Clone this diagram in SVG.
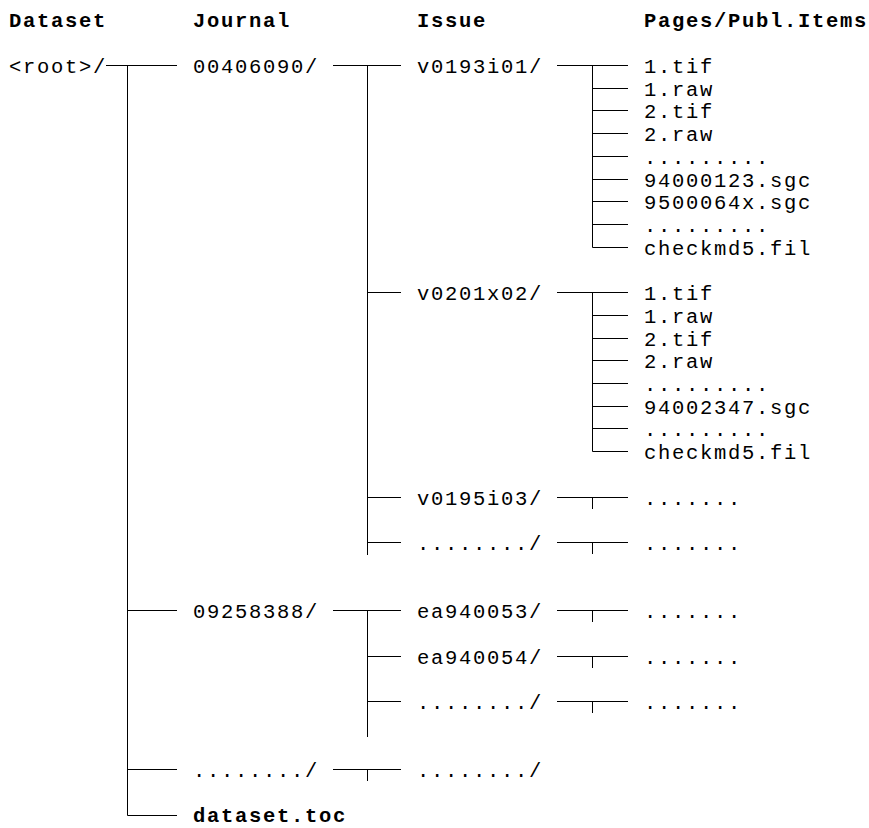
<svg xmlns="http://www.w3.org/2000/svg" width="869" height="828" viewBox="0 0 869 828">
<style>
text{font-family:"Liberation Mono","Courier New",monospace;font-size:20.5px;letter-spacing:1.7px;fill:#000}
.h{font-weight:bold}
.c path{fill:none;stroke:#000;stroke-width:1}
</style>
<rect width="869" height="828" fill="#fff"/>
<g id="headers">
<text class="h" x="9" y="27">Dataset</text>
<text class="h" x="193" y="27">Journal</text>
<text class="h" x="417" y="27">Issue</text>
<text class="h" x="644" y="27">Pages/Publ.Items</text>
</g>
<g id="connectors" class="c">
<path d="M106 65.5H177M127.5 65.5V815.5H177M127.5 610.5H177M127.5 769.5H177"/>
<path d="M333 65.5H401M367.5 65.5V555M367.5 292.5H401M367.5 497.5H401M367.5 542.5H401"/>
<path d="M333 610.5H401M367.5 610.5V737M367.5 656.5H401M367.5 701.5H401"/>
<path d="M333 769.5H401M367.5 769.5V781"/>
<path d="M557 65.5H628M592.5 65.5V247.5H628M592.5 88.5H628M592.5 110.5H628M592.5 133.5H628M592.5 156.5H628M592.5 179.5H628M592.5 201.5H628M592.5 224.5H628"/>
<path d="M557 292.5H628M592.5 292.5V451.5H628M592.5 315.5H628M592.5 338.5H628M592.5 360.5H628M592.5 383.5H628M592.5 406.5H628M592.5 428.5H628"/>
<path d="M557 497.5H628M592.5 497.5V509M557 542.5H628M592.5 542.5V554M557 610.5H628M592.5 610.5V622M557 656.5H628M592.5 656.5V668M557 701.5H628M592.5 701.5V713"/>
</g>
<g id="root"><text x="9" y="73">&lt;root&gt;/</text></g>
<g id="j00406090"><text x="193" y="73">00406090/</text></g>
<g id="v0193i01"><text x="417" y="73">v0193i01/</text></g>
<g id="v0193i01-items">
<text x="644" y="73">1.tif</text>
<text x="644" y="96">1.raw</text>
<text x="644" y="118">2.tif</text>
<text x="644" y="141">2.raw</text>
<text x="644" y="164">.........</text>
<text x="644" y="187">94000123.sgc</text>
<text x="644" y="209">9500064x.sgc</text>
<text x="644" y="232">.........</text>
<text x="644" y="255">checkmd5.fil</text>
</g>
<g id="v0201x02"><text x="417" y="300">v0201x02/</text></g>
<g id="v0201x02-items">
<text x="644" y="300">1.tif</text>
<text x="644" y="323">1.raw</text>
<text x="644" y="346">2.tif</text>
<text x="644" y="368">2.raw</text>
<text x="644" y="391">.........</text>
<text x="644" y="414">94002347.sgc</text>
<text x="644" y="436">.........</text>
<text x="644" y="459">checkmd5.fil</text>
</g>
<g id="v0195i03"><text x="417" y="505">v0195i03/</text><text x="644" y="505">.......</text></g>
<g id="issue-more1"><text x="417" y="550">......../</text><text x="644" y="550">.......</text></g>
<g id="j09258388"><text x="193" y="618">09258388/</text></g>
<g id="ea940053"><text x="417" y="618">ea940053/</text><text x="644" y="618">.......</text></g>
<g id="ea940054"><text x="417" y="664">ea940054/</text><text x="644" y="664">.......</text></g>
<g id="issue-more2"><text x="417" y="709">......../</text><text x="644" y="709">.......</text></g>
<g id="journal-more"><text x="193" y="777">......../</text><text x="417" y="777">......../</text></g>
<g id="dataset-toc"><text class="h" x="193" y="822">dataset.toc</text></g>
</svg>
